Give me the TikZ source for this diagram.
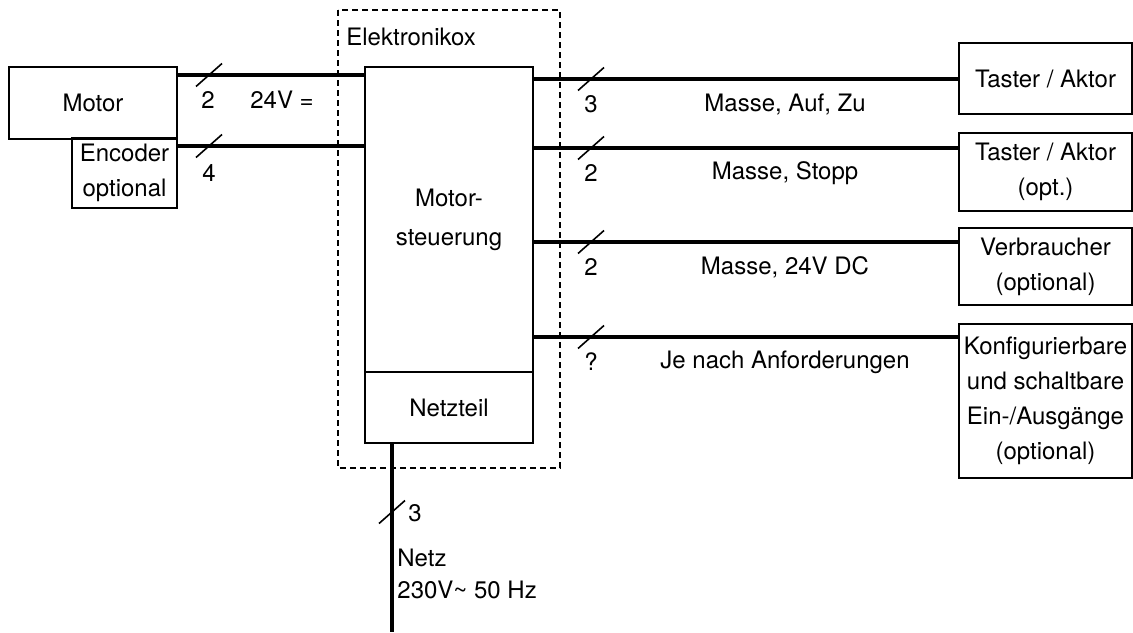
\documentclass[tikz,border=0pt]{standalone}
\usepackage{fontspec}
\setmainfont{TeX Gyre Heros}
\usetikzlibrary{calc, positioning}

\tikzset{
  box/.style={draw, line width=0.8pt, inner sep=0pt, align=center},
  bus/.style={line width=1.8pt},
  frame/.style={line width=0.7pt, dash pattern=on 3pt off 2pt},
  lbl/.style={inner sep=0pt, align=center},
  pics/wires/.style={code={\draw[line width=0.8pt] (-13,11.5) -- (13,-11.5);}}
}

\begin{document}
\begin{tikzpicture}[x=0.5pt, y=-0.5pt, font=\fontsize{12}{17.5}\selectfont]
  \useasboundingbox (0,0) rectangle (1133,632);
  % elektronik box
  \draw[frame] (338,10) rectangle (560,468);
  \node[lbl, anchor=west] (ebox) at (346,37) {Elektronikox};
  % boxes
  \node[box, minimum width=84pt, minimum height=36pt] (motor) at (93,103) {Motor};
  \node[box, minimum width=52.5pt, minimum height=35pt] (enc) at (124.5,173) {Encoder\\optional};
  \node[box, minimum width=84pt, minimum height=152.5pt] (ctrl) at (449,219.5) {Motor-\\[2pt]steuerung};
  \node[box, minimum width=84pt, minimum height=35.5pt] (psu) at (449,407.5) {Netzteil};
  \node[box, minimum width=86.5pt, minimum height=35.5pt] (r1) at (1045.5,78.5) {Taster / Aktor};
  \node[box, minimum width=86.5pt, minimum height=39pt] (r2) at (1045.5,172) {Taster / Aktor\\(opt.)};
  \node[box, minimum width=86.5pt, minimum height=38.5pt] (r3) at (1045.5,266.5) {Verbraucher\\(optional)};
  \node[box, minimum width=86.5pt, minimum height=77pt] (r4) at (1045.5,401) {Konfigurierbare\\und schaltbare\\Ein-/Ausgänge\\(optional)};
  % motor side
  \draw[bus] (motor.east |- 0,75) -- (ctrl.west |- 0,75);
  \draw[bus] (enc.east |- 0,146) -- (ctrl.west |- 0,146);
  \pic at (209,75) {wires};
  \pic at (209,146) {wires};
  \node[lbl] (n2) at (208,100) {2};
  \node[lbl] (n4) at (209,173) {4};
  \node[lbl] (volt) at (282,100) {24V =};
  % outputs
  \foreach \i/\y/\n/\t in {1/79/3/{Masse, Auf, Zu}, 2/148/2/{Masse, Stopp},
                           3/242/2/{Masse, 24V DC}, 4/337/?/{Je nach Anforderungen}} {
    \draw[bus] (ctrl.east |- 0,\y) -- (r\i.west |- 0,\y);
    \pic at (591,\y) {wires};
    \node[lbl] (c\i) at (591,\y+25) {\n};
    \node[lbl] (m\i) at (785,\y+25) {\t};
  }
  % mains
  \coordinate (mains) at (392,632);
  \draw[bus] (psu.south -| mains) -- (mains);
  \pic at (392,512) {wires};
  \node[lbl] (n3) at (415,513) {3};
  \node[lbl, anchor=west, align=left, font=\fontsize{12}{16}\selectfont] (netz) at (397,574) {Netz\\230V\textasciitilde{} 50 Hz};
\end{tikzpicture}
\end{document}
